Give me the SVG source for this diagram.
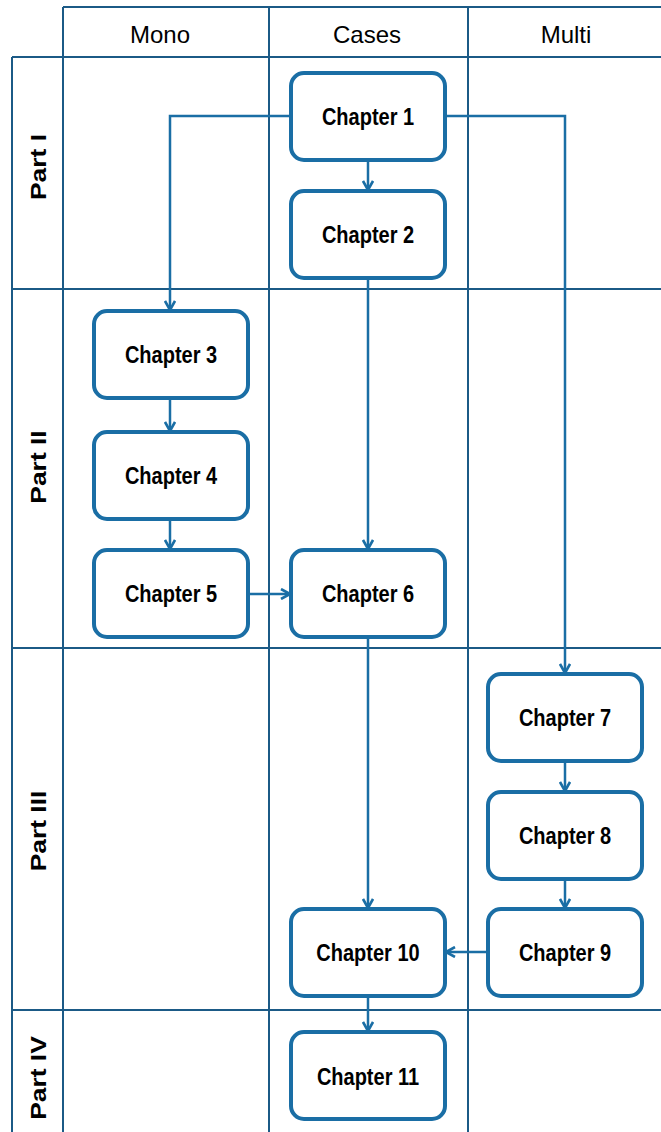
<svg xmlns="http://www.w3.org/2000/svg" width="661" height="1132" viewBox="0 0 661 1132">
  <style>
    .grid { stroke: #1b5a86; stroke-width: 2; fill: none; }
    .node rect { fill: #ffffff; stroke: #1a6ea5; stroke-width: 4; }
    .node text { font-family: "Liberation Sans", Arial, sans-serif; font-size: 20px; font-weight: bold; fill: #000; text-anchor: middle; dominant-baseline: central; }
    .head { font-family: "Liberation Sans", Arial, sans-serif; font-size: 24px; fill: #000; text-anchor: middle; dominant-baseline: central; }
    .part { font-family: "Liberation Sans", Arial, sans-serif; font-size: 22px; font-weight: bold; fill: #000; text-anchor: middle; dominant-baseline: central; }
    .edge { stroke: #1a6ea5; stroke-width: 2.5; fill: none; marker-end: url(#arrow); }
  </style>
  <defs>
    <marker id="arrow" viewBox="0 0 12 12" refX="11" refY="6" markerWidth="12" markerHeight="12" markerUnits="userSpaceOnUse" orient="auto">
      <path d="M2,1 L11,6 L2,11" fill="none" stroke="#1a6ea5" stroke-width="2.6" stroke-linejoin="miter"/>
    </marker>
  </defs>
  <rect width="661" height="1132" fill="#ffffff"/>

  <!-- swimlane grid -->
  <g id="grid" class="grid">
    <line x1="63" y1="7" x2="661" y2="7"/>
    <line x1="12" y1="57" x2="661" y2="57"/>
    <line x1="12" y1="289" x2="661" y2="289"/>
    <line x1="12" y1="648" x2="661" y2="648"/>
    <line x1="12" y1="1010" x2="661" y2="1010"/>
    <line x1="12" y1="57" x2="12" y2="1132"/>
    <line x1="63" y1="7" x2="63" y2="1132"/>
    <line x1="269" y1="7" x2="269" y2="1132"/>
    <line x1="468" y1="7" x2="468" y2="1132"/>
  </g>

  <!-- column and row headers -->
  <g id="headers">
    <text class="head" x="160" y="34">Mono</text>
    <text class="head" x="367" y="34">Cases</text>
    <text class="head" x="566" y="34">Multi</text>
    <text class="part" transform="translate(38,167) rotate(-90) scale(1.2,1)">Part I</text>
    <text class="part" transform="translate(38,467) rotate(-90) scale(1.2,1)">Part II</text>
    <text class="part" transform="translate(38,831) rotate(-90) scale(1.2,1)">Part III</text>
    <text class="part" transform="translate(38,1078) rotate(-90) scale(1.2,1)">Part IV</text>
  </g>

  <!-- connectors -->
  <g id="connectors">
    <path class="edge" d="M291,116 H170 V310"/>
    <path class="edge" d="M445,116 H565 V673"/>
    <path class="edge" d="M368,160 V190"/>
    <path class="edge" d="M368,278 V549"/>
    <path class="edge" d="M170,398 V431"/>
    <path class="edge" d="M170,519 V549"/>
    <path class="edge" d="M248,594 H290"/>
    <path class="edge" d="M368,637 V908"/>
    <path class="edge" d="M565,761 V791"/>
    <path class="edge" d="M565,879 V908"/>
    <path class="edge" d="M488,952 H446"/>
    <path class="edge" d="M368,996 V1031"/>
  </g>

  <!-- chapters -->
  <g id="ch1" class="node"><rect x="291" y="73" width="154" height="87" rx="13"/><text transform="translate(368,117) scale(1,1.17)">Chapter 1</text></g>
  <g id="ch2" class="node"><rect x="291" y="191" width="154" height="87" rx="13"/><text transform="translate(368,235) scale(1,1.17)">Chapter 2</text></g>
  <g id="ch3" class="node"><rect x="94" y="311" width="154" height="87" rx="13"/><text transform="translate(171,355) scale(1,1.17)">Chapter 3</text></g>
  <g id="ch4" class="node"><rect x="94" y="432" width="154" height="87" rx="13"/><text transform="translate(171,476) scale(1,1.17)">Chapter 4</text></g>
  <g id="ch5" class="node"><rect x="94" y="550" width="154" height="87" rx="13"/><text transform="translate(171,594) scale(1,1.17)">Chapter 5</text></g>
  <g id="ch6" class="node"><rect x="291" y="550" width="154" height="87" rx="13"/><text transform="translate(368,594) scale(1,1.17)">Chapter 6</text></g>
  <g id="ch7" class="node"><rect x="488" y="674" width="154" height="87" rx="13"/><text transform="translate(565,718) scale(1,1.17)">Chapter 7</text></g>
  <g id="ch8" class="node"><rect x="488" y="792" width="154" height="87" rx="13"/><text transform="translate(565,836) scale(1,1.17)">Chapter 8</text></g>
  <g id="ch9" class="node"><rect x="488" y="909" width="154" height="87" rx="13"/><text transform="translate(565,953) scale(1,1.17)">Chapter 9</text></g>
  <g id="ch10" class="node"><rect x="291" y="909" width="154" height="87" rx="13"/><text transform="translate(368,953) scale(1,1.17)">Chapter 10</text></g>
  <g id="ch11" class="node"><rect x="291" y="1032" width="154" height="87" rx="13"/><text transform="translate(368,1077) scale(1,1.17)">Chapter 11</text></g>
</svg>
